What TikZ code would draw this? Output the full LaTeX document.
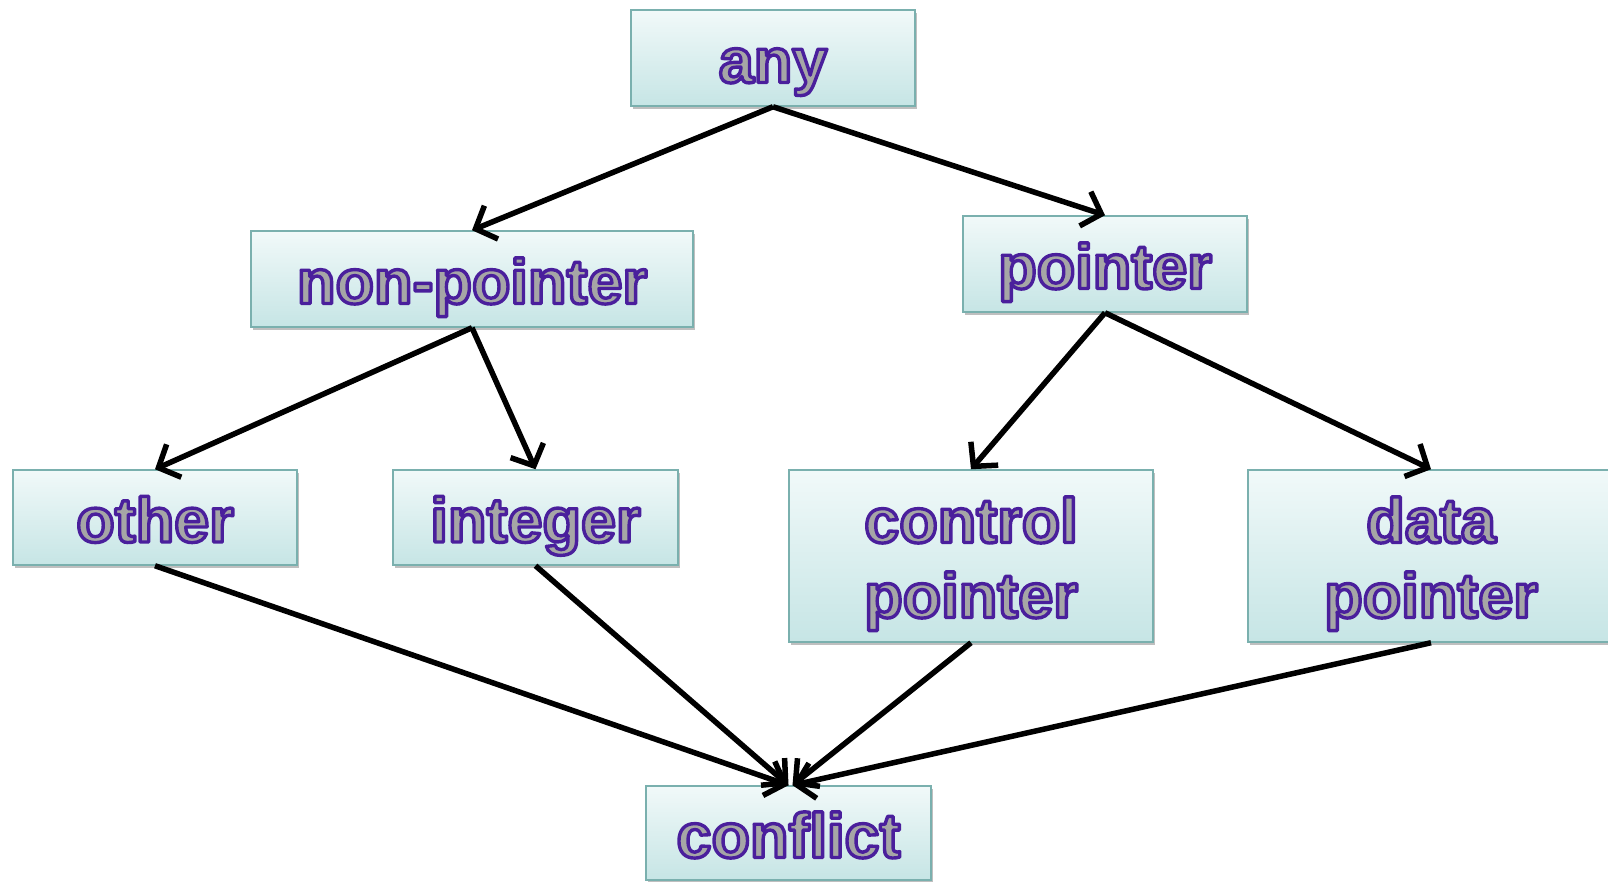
\documentclass[tikz,border=0pt]{standalone}
\usepackage{fontspec}
\setmainfont{Liberation Sans}
\usetikzlibrary{arrows.meta,shadows}
\definecolor{boxtop}{HTML}{F1F9F9}
\definecolor{boxbot}{HTML}{C6E5E5}
\definecolor{boxline}{HTML}{7AB0AE}
\definecolor{txtfill}{HTML}{A6A6A6}
\newcommand{\olt}[1]{\textcolor{txtfill}{\special{pdf:literal direct q 2 Tr 3.4 w 1 j 0.29 0.12 0.61 RG}#1\special{pdf:literal direct Q}}}
\tikzset{
  tbox/.style={draw=boxline, line width=1.5pt, top color=boxtop, bottom color=boxbot,
    drop shadow={shadow xshift=2pt, shadow yshift=-3pt, opacity=0.25, fill=black},
    inner sep=0pt},
  txt/.style={anchor=base, inner sep=0pt, font=\fontsize{63}{77}\selectfont\bfseries},
  arr/.style={line width=5.5pt, -{Straight Barb[length=17pt,width=36pt]}, black}
}
\begin{document}
\begin{tikzpicture}[x=1pt,y=-1pt]
\useasboundingbox (0,0) rectangle (1608,882);
\node[tbox, minimum width=284pt, minimum height=96pt] (any) at (773,58) {};
\node[tbox, minimum width=442pt, minimum height=96pt] (nonp) at (472,279) {};
\node[tbox, minimum width=284pt, minimum height=96pt] (ptr) at (1105,264) {};
\node[tbox, minimum width=284pt, minimum height=95pt] (other) at (155,517.5) {};
\node[tbox, minimum width=285pt, minimum height=95pt] (int) at (535.5,517.5) {};
\node[tbox, minimum width=364pt, minimum height=172pt] (ctrl) at (971,556) {};
\node[tbox, minimum width=366pt, minimum height=172pt] (data) at (1431,556) {};
\node[tbox, minimum width=285pt, minimum height=94pt] (conf) at (788.5,833) {};
\node[txt] (tany) at ([yshift=-24.5pt]any.center) {\olt{any}};
\node[txt] (tnonp) at ([yshift=-24.5pt]nonp.center) {\olt{non-pointer}};
\node[txt] (tptr) at ([yshift=-24.5pt]ptr.center) {\olt{pointer}};
\node[txt] (tother) at ([yshift=-24.5pt]other.center) {\olt{other}};
\node[txt] (tint) at ([yshift=-24.5pt]int.center) {\olt{integer}};
\node[txt] (tctrl1) at ([yshift=13.5pt]ctrl.center) {\olt{control}};
\node[txt] (tctrl2) at ([yshift=-61.5pt]ctrl.center) {\olt{pointer}};
\node[txt] (tdata1) at ([yshift=13.5pt]data.center) {\olt{data}};
\node[txt] (tdata2) at ([yshift=-61.5pt]data.center) {\olt{pointer}};
\node[txt] (tconf) at ([yshift=-24.5pt]conf.center) {\olt{conflict}};
\draw[arr] (any.south) -- (nonp.north);
\draw[arr] (any.south) -- (ptr.north);
\draw[arr] (nonp.south) -- (other.north);
\draw[arr] (nonp.south) -- (int.north);
\draw[arr] (ptr.south) -- (ctrl.north);
\draw[arr] (ptr.south) -- (data.north);
\draw[arr] (other.south) -- (conf.north);
\draw[arr] (int.south) -- (conf.north);
\draw[arr] (ctrl.south) -- ([xshift=4pt]conf.north);
\draw[arr] (data.south) -- ([xshift=4pt]conf.north);
\end{tikzpicture}
\end{document}
